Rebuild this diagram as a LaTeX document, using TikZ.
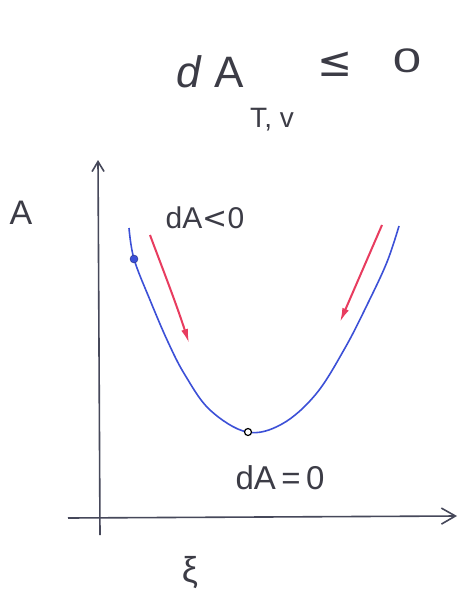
\documentclass[tikz,border=0pt]{standalone}
\usepackage{fontspec}
\setmainfont{Liberation Sans}
\newfontfamily\symfont{DejaVu Sans}
\usetikzlibrary{arrows.meta}
\definecolor{axisgray}{RGB}{70,72,90}
\definecolor{curveblue}{RGB}{60,80,215}
\definecolor{arrowred}{RGB}{232,60,95}
\definecolor{inkgray}{RGB}{60,60,70}
\tikzset{
  axis/.style={draw=axisgray, line width=1.6pt},
  curve/.style={draw=curveblue, line width=1.6pt},
  redarrow/.style={draw=arrowred, line width=2pt, -{Latex[length=14pt,width=7pt]}},
  label/.style={text=inkgray, inner sep=0pt, anchor=center},
}
\begin{document}
\begin{tikzpicture}[x=1pt,y=-1pt]
\useasboundingbox[fill=white] (0,0) rectangle (459,599);
% title
\node[label, font=\fontsize{44}{44}\selectfont] (dA) at (210,72) {\textit{d} A};
\node[label, font=\symfont\fontsize{42}{42}\selectfont] (le) at (335,64) {≤};
\node[label, font=\fontsize{34}{34}\selectfont, xscale=1.5] (zero) at (407,61) {0};
\node[label, font=\fontsize{28}{28}\selectfont] (tv) at (272,120) {T, v};
% axes
\coordinate (ybot) at (100,535);
\coordinate (ytop) at (98,160);
\coordinate (xl) at (68,518);
\coordinate (xr) at (457,516);
\draw[axis, -{Straight Barb[length=10pt,width=12pt]}] (ybot) -- (ytop);
\draw[axis, -{Straight Barb[length=14pt,width=16pt]}] (xl) -- (xr);
\node[label, font=\fontsize{34}{34}\selectfont] (Alab) at (21,213) {A};
\node[label, font=\fontsize{36}{36}\selectfont] (xi) at (190,573) {ξ};
% curve
\draw[curve] plot[smooth, tension=0.6] coordinates {(129,228) (134,259) (150,300) (168,342) (185,375) (210,410) (247,432) (282,424) (316,394) (345,348) (368,303) (387,262) (399,226)};
\node[circle, fill=curveblue, draw=curveblue!60!black, inner sep=0pt, minimum size=8pt] (p1) at (134,259) {};
\node[circle, draw=black, line width=1.2pt, fill=white, inner sep=0pt, minimum size=7pt] (pmin) at (248,432) {};
% red arrows
\coordinate (r1s) at (150,235);
\coordinate (r1e) at (189,343);
\draw[redarrow] (r1s) .. controls (160,262) and (175,300) .. (r1e);
\coordinate (r2s) at (382,225);
\coordinate (r2e) at (340,322);
\draw[redarrow] (r2s) -- (r2e);
% labels
\node[label, font=\fontsize{30}{30}\selectfont] (dAlt) at (205,218) {dA{\symfont<}0};
\node[label, font=\fontsize{33}{33}\selectfont] (dAeq) at (280,478) {dA\,=\,0};
\end{tikzpicture}
\end{document}
